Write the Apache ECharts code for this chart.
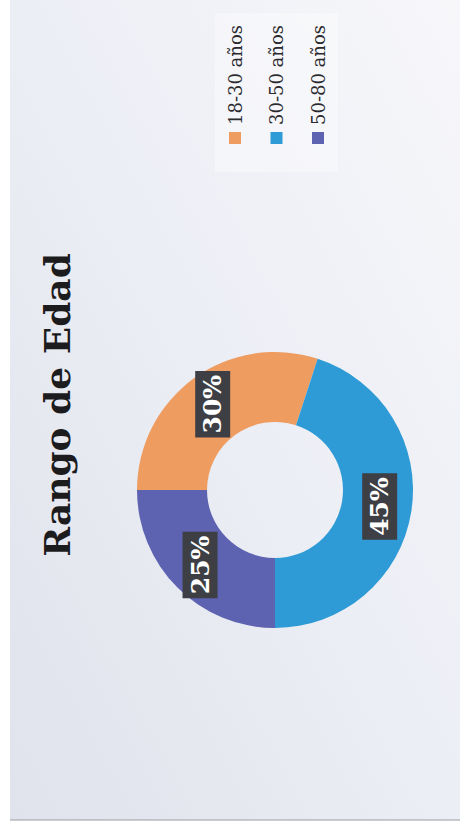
<!DOCTYPE html>
<html>
<head>
<meta charset="utf-8">
<script src="https://cdn.jsdelivr.net/npm/echarts@6/dist/echarts.min.js"></script>
<style>
  html, body { margin: 0; padding: 0; background: #ffffff; width: 460px; height: 831px; overflow: hidden; }
  #chart {
    position: absolute; left: 0; top: 831px;
    width: 831px; height: 460px;
    transform-origin: 0 0; transform: rotate(-90deg);
  }
</style>
</head>
<body>
<div id="chart"></div>
<script>
const titleText = 'Rango de Edad';
const categories = ['18-30 años', '30-50 años', '50-80 años'];
const values = [30, 45, 25];
const colors = ['#ee9c60', '#2f9bd6', '#5d62b1'];

const chart = echarts.init(document.getElementById('chart'), null, { renderer: 'svg' });
chart.setOption({
  animation: false,
  color: colors,
  graphic: [
    {
      type: 'rect', z: -10, silent: true,
      shape: { x: 11, y: 10, width: 820, height: 450 },
      style: {
        fill: new echarts.graphic.LinearGradient(0, 0, 1, 1, [
          { offset: 0, color: '#e0e2ec' },
          { offset: 0.5, color: '#eceef5' },
          { offset: 1, color: '#f7f7fa' }
        ])
      }
    },
    {
      type: 'line', z: -9, silent: true,
      shape: { x1: 11, y1: 10, x2: 11, y2: 460 },
      style: { stroke: '#9a9aa2', lineWidth: 1 }
    }
  ],
  title: {
    text: titleText,
    left: 426,
    textAlign: 'center',
    top: 39,
    padding: 0,
    textStyle: {
      fontFamily: 'DejaVu Serif',
      fontWeight: 'bold',
      fontSize: 36,
      lineHeight: 36,
      color: '#1c1c1e'
    }
  },
  legend: {
    orient: 'vertical',
    left: 659,
    top: 215,
    padding: [10, 12, 10, 28],
    backgroundColor: 'rgba(255,255,255,0.35)',
    itemWidth: 12,
    itemHeight: 12,
    itemGap: 21.5,
    icon: 'rect',
    data: categories,
    textStyle: {
      fontFamily: 'DejaVu Serif',
      fontSize: 18,
      lineHeight: 20,
      color: '#2a2a2e',
      padding: [0, 0, 0, 2]
    }
  },
  series: [{
    type: 'pie',
    center: [341, 275],
    radius: [68, 138],
    startAngle: 90,
    clockwise: true,
    avoidLabelOverlap: false,
    label: {
      show: true,
      position: 'inside',
      formatter: '{c}%',
      fontFamily: 'DejaVu Serif',
      fontWeight: 'bold',
      fontSize: 25,
      lineHeight: 27,
      color: '#ffffff',
      backgroundColor: '#3e3f45',
      padding: [4, 4]
    },
    labelLine: { show: false },
    data: categories.map((c, i) => ({ name: c, value: values[i] }))
  }]
});
</script>
</body>
</html>
